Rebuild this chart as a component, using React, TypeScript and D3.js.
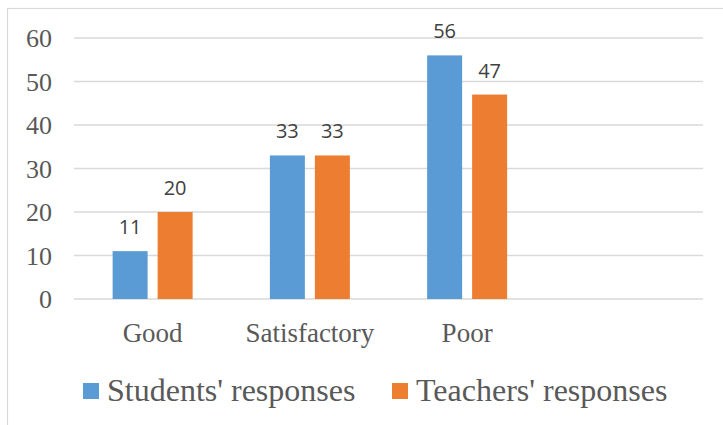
import React from "react";
import * as d3 from "d3";

const categories = ["Good", "Satisfactory", "Poor", ""];
const seriesNames = ["Students' responses", "Teachers' responses"];
const students = [11, 33, 56];
const teachers = [20, 33, 47];
const yTicks = [0, 10, 20, 30, 40, 50, 60];
const colors = ["#5B9BD5", "#ED7D31"];

export default function App() {
  const W = 723, H = 425;
  const x = d3.scaleBand<string>().domain(categories).range([74, 703]).paddingInner(0).paddingOuter(0);
  const y = d3.scaleLinear().domain([0, 60]).range([299, 38]);
  const groupW = 80;
  const x1 = d3.scaleBand<string>().domain(seriesNames).range([0, groupW]).paddingInner(10 / 45).paddingOuter(0);
  const series = [students, teachers];
  const serifStyle = { fontFamily: '"Liberation Serif", "Times New Roman", Times, "DejaVu Serif", serif' };
  return (
    <svg width={W} height={H} style={{ position: "absolute", left: 0, top: 0, background: "#fff" }}>
      <rect x={7.5} y={8.5} width={W + 20} height={H + 20} fill="#fff" stroke="#D9D9D9" strokeWidth={1.2} />
      {yTicks.map((t) => (
        <g key={t}>
          <line x1={74} x2={703} y1={y(t)} y2={y(t)} stroke="#D9D9D9" strokeWidth={1.3} />
          <text x={52} y={y(t) + 9} textAnchor="end" style={serifStyle} fontSize={26} fill="#595959">{t}</text>
        </g>
      ))}
      {series.map((vals, si) =>
        vals.map((v, ci) => {
          const cx = x(categories[ci])! + x.bandwidth() / 2;
          const bx = cx - groupW / 2 + x1(seriesNames[si])!;
          const bw = x1.bandwidth();
          return (
            <g key={`${si}-${ci}`}>
              <rect x={bx} y={y(v)} width={bw} height={y(0) - y(v)} fill={colors[si]} />
              <text x={bx + bw / 2} y={y(v) - 17} textAnchor="middle" style={{ fontFamily: '"Open Sans", sans-serif' }} fontSize={20} fill="#404040">{v}</text>
            </g>
          );
        })
      )}
      {categories.filter((c) => c).map((c) => (
        <text key={c} x={x(c)! + x.bandwidth() / 2} y={342} textAnchor="middle" style={serifStyle} fontSize={27} fill="#595959">{c}</text>
      ))}
      {seriesNames.map((s, i) => {
        const lx = i === 0 ? 83 : 392;
        return (
          <g key={s}>
            <rect x={lx} y={383} width={16} height={16} fill={colors[i]} />
            <text x={lx + 24} y={401} style={serifStyle} fontSize={32} fill="#595959">{s}</text>
          </g>
        );
      })}
    </svg>
  );
}
